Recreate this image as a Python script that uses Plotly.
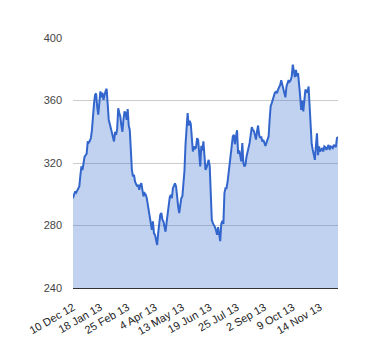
import pandas as pd
import plotly.graph_objects as go

# Trading days (London) from 10 Dec 2012
uk_holidays = ["2012-12-25", "2012-12-26", "2013-01-01", "2013-03-29", "2013-04-01",
               "2013-05-06", "2013-05-27", "2013-08-26", "2013-12-25", "2013-12-26"]

values = [
    297.5, 300, 301.8, 301, 302.5, 302.9, 305, 312, 317.8, 315.5,
    321, 324, 325, 326, 333.8, 333, 334, 336, 341, 352,
    358, 363.6, 364.5, 356, 351, 358, 365.8, 362, 365, 360.4,
    364, 366, 367.5, 355, 347.6, 345, 342, 341, 336, 333.8,
    340, 338, 342, 355, 352, 349.8, 344, 340, 348, 353,
    352, 347.6, 354.5, 344, 341, 325, 315.6, 311.4, 312.4, 308,
    306, 305, 306, 302.8, 306, 307.1, 302.8, 298.6, 300.7, 300,
    298, 294.3, 288, 286, 282, 277.3, 282.6, 275, 274, 271,
    267.5, 275.1, 284, 287, 288, 283.7, 282.6, 279.4, 276, 282,
    288, 293, 298, 299.6, 297.5, 303.9, 305.5, 307, 305, 296,
    292.2, 288, 293, 297.5, 298.6, 305, 315, 332, 345, 352,
    344, 347, 345, 336, 327.4, 330.6, 329, 330, 335.9, 334.8,
    328, 317.8, 331, 328, 333.8, 320, 315.6, 317, 320, 322,
    318, 300, 283.7, 281.5, 280.5, 279, 277, 274, 279, 274,
    270, 281, 283, 281, 300.7, 303.9, 303.9, 308, 314, 320,
    325, 334, 337, 338, 332, 337, 341, 326, 328, 325,
    321, 332.7, 320, 317.8, 319, 324, 328.4, 330, 333, 338,
    343, 341.2, 340.5, 338, 335, 340.2, 344, 338, 336, 337,
    333.8, 334.8, 332, 331, 333, 335.9, 337, 348, 356.5, 358.3,
    361, 363.5, 365, 365.5, 364.7, 367, 368.5, 370, 373, 370,
    368, 364, 362, 369, 370.5, 373, 372, 373, 375.4, 383,
    379, 375, 379.6, 375.4, 377.5, 372, 363, 354, 360, 353,
    358.3, 367, 366, 365, 369, 354, 340, 332, 328.4, 324,
    322, 331, 339, 325, 330.6, 327.4, 329, 329.5, 327.4, 330.6,
    330, 328.4, 330, 331.6, 328.4, 330.6, 330.2, 329.5, 331.6, 330.6,
    330.6, 335.9, 336.6,
]

dates = pd.bdate_range("2012-12-10", periods=len(values), freq="C", holidays=uk_holidays)
categories = [f"{d.day} {d.strftime('%b %y')}" for d in dates]

tick_labels = ["10 Dec 12", "18 Jan 13", "25 Feb 13", "4 Apr 13", "13 May 13",
               "19 Jun 13", "25 Jul 13", "2 Sep 13", "9 Oct 13", "14 Nov 13"]
y_ticks = [240, 280, 320, 360, 400]

fig = go.Figure()
fig.add_trace(go.Scatter(
    x=categories, y=values, mode="lines",
    line=dict(color="#3366cc", width=2),
    fill="tozeroy", fillcolor="rgba(51,102,204,0.3)",
    hoverinfo="x+y",
))

font = "Arial, Liberation Sans, sans-serif"
fig.update_layout(
    width=372, height=352,
    margin=dict(l=65, r=42, t=30, b=72),
    paper_bgcolor="white", plot_bgcolor="white",
    showlegend=False,
    font=dict(family=font, size=11, color="#444"),
)
fig.update_xaxes(
    type="category", categoryorder="array", categoryarray=categories,
    range=[0, len(categories) - 1], automargin=False,
    tickmode="array", tickvals=tick_labels, ticktext=tick_labels,
    tickangle=-30, showgrid=False, ticks="", ticklabelstandoff=8,
    showline=True, linecolor="#333", linewidth=1,
    tickfont=dict(family=font, size=11, color="#222"),
)
fig.update_yaxes(
    range=[240, 400], tickmode="array", tickvals=y_ticks, automargin=False,
    showgrid=True, gridcolor="#cccccc", gridwidth=1,
    zeroline=False, ticks="", ticklabelstandoff=10,
    tickfont=dict(family=font, size=11, color="#444"),
)

fig.write_html("out.html")
